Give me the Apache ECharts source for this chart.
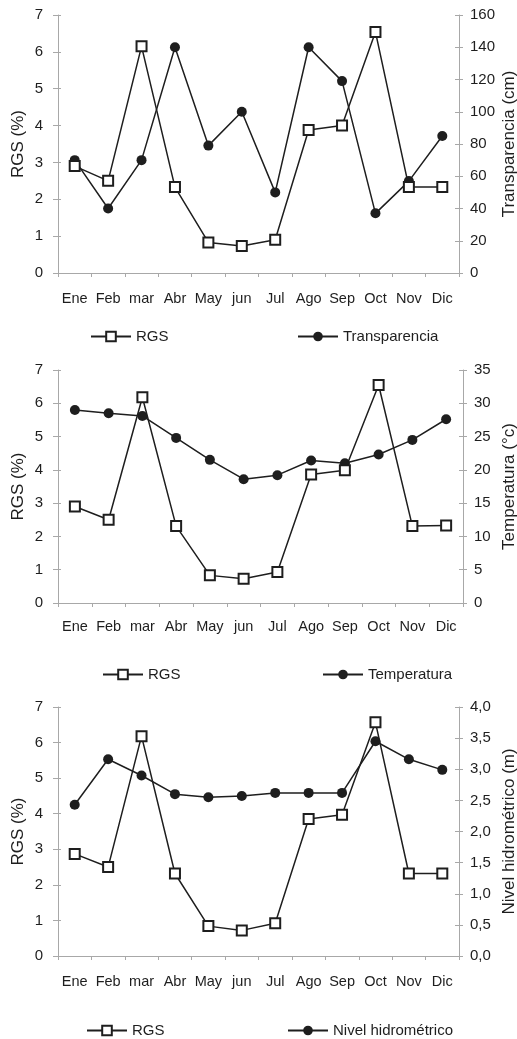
<!DOCTYPE html>
<html>
<head>
<meta charset="utf-8">
<script src="https://cdn.jsdelivr.net/npm/echarts@6/dist/echarts.min.js"></script>
<style>
html,body{margin:0;padding:0;background:#fff;overflow:hidden;width:517px;height:1039px;}
#c{width:517px;height:1039px;}
</style>
</head>
<body>
<div id="c"></div>
<script>
var categories = ['Ene','Feb','mar','Abr','May','jun','Jul','Ago','Sep','Oct','Nov','Dic'];

var rgs1 = [2.9, 2.5, 6.15, 2.33, 0.83, 0.73, 0.9, 3.88, 4.0, 6.54, 2.33, 2.33];
var transparencia = [70, 40, 70, 140, 79, 100, 50, 140, 119, 37, 57, 85];

var rgs2 = [2.9, 2.5, 6.18, 2.31, 0.83, 0.73, 0.93, 3.86, 3.99, 6.55, 2.31, 2.33];
var temperatura = [29.0, 28.5, 28.1, 24.8, 21.5, 18.6, 19.2, 21.4, 21.0, 22.3, 24.5, 27.6];

var rgs3 = [2.87, 2.5, 6.18, 2.32, 0.84, 0.72, 0.92, 3.85, 3.97, 6.57, 2.32, 2.32];
var nivel = [2.43, 3.16, 2.90, 2.60, 2.55, 2.57, 2.62, 2.62, 2.62, 3.45, 3.16, 2.99];

var leftTicks = [0, 1, 2, 3, 4, 5, 6, 7];
var rightTicks1 = [0, 20, 40, 60, 80, 100, 120, 140, 160];
var rightTicks2 = [0, 5, 10, 15, 20, 25, 30, 35];
var rightTicks3 = ['0,0','0,5','1,0','1,5','2,0','2,5','3,0','3,5','4,0'];

var FONT = 'Liberation Sans, Arial, sans-serif';
var TXT = '#1e1e1e';
var AX = '#a8a8a8';

var panels = [
  {top: 15, height: 258, right: 58, rgs: rgs1, other: transparencia, otherName: 'Transparencia',
   rightName: 'Transparencia (cm)', rmax: 160, rint: 20, rticks: rightTicks1, lmargin: 18,
   leftNameGap: 31, rightNameGap: 42, legendTop: 329, legL: 90, legR: 297},
  {top: 370, height: 233, right: 54, rgs: rgs2, other: temperatura, otherName: 'Temperatura',
   rightName: 'Temperatura (\u00b0c)', rmax: 35, rint: 5, rticks: rightTicks2, lmargin: 16,
   leftNameGap: 31, rightNameGap: 38, legendTop: 667, legL: 102, legR: 322},
  {top: 707, height: 249, right: 58, rgs: rgs3, other: nivel, otherName: 'Nivel hidrom\u00e9trico',
   rightName: 'Nivel hidrom\u00e9trico (m)', rmax: 4, rint: 0.5, rticks: rightTicks3, lmargin: 18,
   leftNameGap: 31, rightNameGap: 42, legendTop: 1023, legL: 86, legR: 287}
];

var option = {
  animation: false,
  backgroundColor: '#fff',
  textStyle: {fontFamily: FONT},
  grid: [], xAxis: [], yAxis: [], series: [], legend: []
};

panels.forEach(function (p, i) {
  option.grid.push({left: 58, right: p.right, top: p.top, height: p.height,
    containLabel: false, outerBoundsMode: 'none'});
  var xi = option.xAxis.length;
  option.xAxis.push({
    type: 'category', gridIndex: i, data: categories, boundaryGap: true,
    axisLine: {lineStyle: {color: AX, width: 1}},
    axisTick: {show: true, length: 4, lineStyle: {color: AX}},
    axisLabel: {color: TXT, fontSize: 14.5, margin: p.lmargin, fontFamily: FONT, interval: 0}
  });
  option.xAxis.push({
    type: 'category', gridIndex: i, data: categories, boundaryGap: true,
    axisLine: {show: false},
    axisTick: {show: true, inside: true, length: 4, lineStyle: {color: AX}},
    axisLabel: {show: false}
  });
  var yi = option.yAxis.length;
  option.yAxis.push({
    type: 'value', gridIndex: i, position: 'left', min: 0, max: 7, interval: 1,
    name: 'RGS (%)', nameLocation: 'middle', nameGap: p.leftNameGap, nameMoveOverlap: false,
    nameTextStyle: {color: TXT, fontSize: 17, fontFamily: FONT},
    axisLine: {show: true, lineStyle: {color: AX, width: 1}},
    axisTick: {show: true, length: 5, lineStyle: {color: AX}},
    axisLabel: {color: TXT, fontSize: 15, margin: 15, fontFamily: FONT,
      formatter: function (v) { return String(leftTicks[Math.round(v)]); }},
    splitLine: {show: false}
  });
  var rt = p.rticks, rint = p.rint;
  option.yAxis.push({
    type: 'value', gridIndex: i, position: 'right', min: 0, max: p.rmax, interval: p.rint,
    name: p.rightName, nameLocation: 'middle', nameGap: p.rightNameGap, nameMoveOverlap: false,
    nameTextStyle: {color: TXT, fontSize: 17, fontFamily: FONT},
    axisLine: {show: true, lineStyle: {color: AX, width: 1}},
    axisTick: {show: true, length: 4, lineStyle: {color: AX}},
    axisLabel: {color: TXT, fontSize: 15, margin: 11, fontFamily: FONT,
      formatter: function (v) { return String(rt[Math.round(v / rint)]); }},
    splitLine: {show: false}
  });
  option.yAxis.push({
    type: 'value', gridIndex: i, position: 'left', min: 0, max: 7, interval: 1,
    axisLine: {show: false}, axisLabel: {show: false}, splitLine: {show: false},
    axisTick: {show: true, inside: true, length: 3, lineStyle: {color: AX}}
  });
  option.yAxis.push({
    type: 'value', gridIndex: i, position: 'right', min: 0, max: p.rmax, interval: p.rint,
    axisLine: {show: false}, axisLabel: {show: false}, splitLine: {show: false},
    axisTick: {show: true, inside: true, length: 4, lineStyle: {color: AX}}
  });

  option.series.push({
    type: 'line', name: 'RGS', xAxisIndex: xi, yAxisIndex: yi, data: p.rgs,
    symbol: 'emptyRect', symbolSize: 10,
    lineStyle: {color: '#1e1e1e', width: 1.5},
    itemStyle: {color: '#1e1e1e', borderWidth: 1.2},
    z: 3
  });
  option.series.push({
    type: 'line', name: p.otherName, xAxisIndex: xi, yAxisIndex: yi + 1, data: p.other,
    symbol: 'circle', symbolSize: 10,
    lineStyle: {color: '#1e1e1e', width: 1.5},
    itemStyle: {color: '#1e1e1e'},
    z: 2
  });

  var legBase = {
    top: p.legendTop, padding: 0, itemWidth: 40, itemHeight: 12, itemGap: 5,
    textStyle: {color: TXT, fontSize: 15, fontFamily: FONT},
    selectedMode: false
  };
  option.legend.push(Object.assign({}, legBase, {left: p.legL, data: ['RGS']}));
  option.legend.push(Object.assign({}, legBase, {left: p.legR, data: [p.otherName]}));
});

var chart = echarts.init(document.getElementById('c'), null, {renderer: 'canvas'});
chart.setOption(option);
</script>
</body>
</html>
